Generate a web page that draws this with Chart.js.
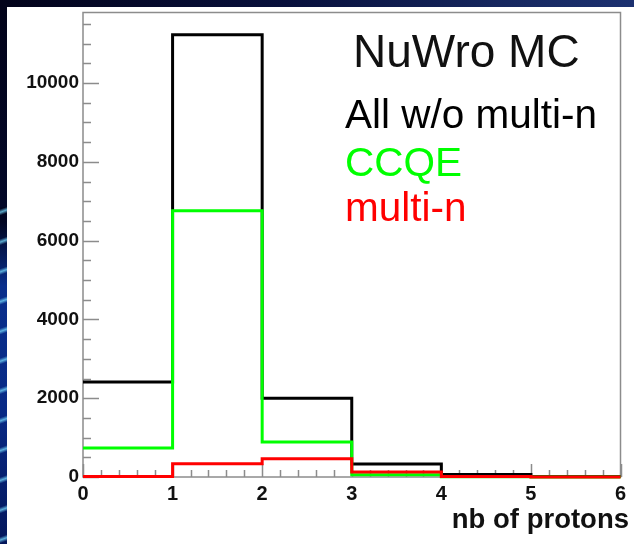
<!DOCTYPE html>
<html>
<head>
<meta charset="utf-8">
<script src="https://cdn.jsdelivr.net/npm/chart.js@4/dist/chart.umd.min.js"></script>
<style>
  html, body { margin: 0; padding: 0; }
  body {
    width: 634px; height: 544px; position: relative; overflow: hidden;
    background: linear-gradient(to right, #02031a 0%, #08103c 45%, #16275f 80%, #1c3170 100%);
  }
  #strip {
    position: absolute; left: 0; top: 7px; width: 7px; height: 537px;
    background:
      repeating-linear-gradient(160deg, rgba(90,200,255,0) 0px, rgba(90,200,255,0) 22px, rgba(120,220,255,0.75) 25px, rgba(90,200,255,0) 28px),
      linear-gradient(to bottom, #02031a 0%, #020622 40%, #0a2f8c 52%, #082a86 75%, #04165a 100%);
  }
  #strip::before {
    content: ""; position: absolute; left: 0; top: 0; width: 7px; height: 200px;
    background: linear-gradient(to bottom, #02031a, #030828);
  }
  #panel {
    position: absolute; left: 7px; top: 7px; width: 627px; height: 537px; background: #ffffff;
  }
</style>
</head>
<body>
<div id="strip"></div>
<div id="panel"><canvas id="c" width="627" height="537"></canvas></div>
<script>
// Number of protons per event, one entry per unit-wide bin [0,1), [1,2), ... [5,6)
const binEdges = [0, 1, 2, 3, 4, 5, 6];
const allNoMultiN = [2410, 11230, 2000, 330, 65, 10];
const ccqe = [735, 6760, 890, 58, 8, 0];
const multiN = [10, 335, 465, 130, 12, 0];

const yMax = 11792;
const yMajorTicks = [0, 2000, 4000, 6000, 8000, 10000];
const xMajorTicks = [0, 1, 2, 3, 4, 5, 6];

const legendLines = [
  { text: 'All w/o multi-n', color: '#000000' },
  { text: 'CCQE', color: '#00ff00' },
  { text: 'multi-n', color: '#ff0000' }
];

// Step outline: the value of bin i is held from edge i to edge i+1
function histPoints(values) {
  const pts = values.map((v, i) => ({ x: binEdges[i], y: v }));
  pts.push({ x: binEdges[values.length], y: values[values.length - 1] });
  return pts;
}

const frameColor = '#8c8c8c';

const framePlugin = {
  id: 'frame',
  beforeDatasetsDraw(chart) {
    const { ctx, chartArea: a, scales } = chart;
    const xs = scales.x, ys = scales.y;
    ctx.save();
    ctx.strokeStyle = frameColor;
    ctx.lineWidth = 1.5;
    ctx.strokeRect(a.left, a.top, a.right - a.left, a.bottom - a.top);
    ctx.beginPath();
    // y ticks: major every 2000, minor every 500, pointing into the frame
    for (let v = 0; v <= yMax; v += 500) {
      const py = Math.round(ys.getPixelForValue(v)) + 0.5;
      const len = v % 2000 === 0 ? 16 : 8;
      ctx.moveTo(a.left, py);
      ctx.lineTo(a.left + len, py);
    }
    // x ticks: major every 1, minor every 0.2
    for (let k = 0; k <= 30; k++) {
      const v = k / 5;
      const px = Math.round(xs.getPixelForValue(v)) + 0.5;
      const len = k % 5 === 0 ? 13 : 7;
      ctx.moveTo(px, a.bottom);
      ctx.lineTo(px, a.bottom - len);
    }
    ctx.stroke();
    ctx.restore();
  },
  afterDraw(chart) {
    const { ctx } = chart;
    ctx.save();
    ctx.textAlign = 'left';
    ctx.textBaseline = 'alphabetic';
    ctx.fillStyle = '#111111';
    ctx.font = '46px "Liberation Sans", Arial, sans-serif';
    ctx.fillText('NuWro MC', 346, 60);
    ctx.font = '40.5px "Liberation Sans", Arial, sans-serif';
    const baselines = [121, 169, 214];
    legendLines.forEach((l, i) => {
      ctx.fillStyle = l.color;
      ctx.fillText(l.text, 338, baselines[i]);
    });
    ctx.fillStyle = '#111111';
    ctx.textAlign = 'right';
    ctx.font = 'bold 27.5px "Liberation Sans", Arial, sans-serif';
    ctx.fillText('nb of protons', 622, 521);
    ctx.restore();
  }
};

function lineSet(label, values, color, order) {
  return {
    label,
    data: histPoints(values),
    borderColor: color,
    backgroundColor: color,
    borderWidth: 3,
    stepped: 'before',
    pointRadius: 0,
    fill: false,
    clip: false,
    order,
    borderCapStyle: 'butt',
    borderJoinStyle: 'miter'
  };
}

new Chart(document.getElementById('c'), {
  type: 'line',
  data: {
    datasets: [
      lineSet('All w/o multi-n', allNoMultiN, '#000000', 2),
      lineSet('CCQE', ccqe, '#00ff00', 1),
      lineSet('multi-n', multiN, '#ff0000', 0)
    ]
  },
  options: {
    responsive: false,
    animation: false,
    events: [],
    layout: { autoPadding: false, padding: { left: 0, top: 5.5, right: 13.5, bottom: 0 } },
    plugins: { legend: { display: false }, tooltip: { enabled: false }, title: { display: false } },
    scales: {
      x: {
        type: 'linear',
        min: 0,
        max: 6,
        grid: { display: false, drawTicks: false },
        border: { display: false },
        afterBuildTicks(scale) { scale.ticks = xMajorTicks.map(v => ({ value: v })); },
        afterFit(scale) { scale.height = 67; scale.paddingLeft = 0; scale.paddingRight = 0; },
        ticks: {
          padding: 5,
          color: '#111111',
          maxRotation: 0,
          autoSkip: false,
          callback: v => String(v),
          font: { family: '"Liberation Sans", Arial, sans-serif', size: 20, weight: 'bold' }
        }
      },
      y: {
        type: 'linear',
        min: 0,
        max: yMax,
        grid: { display: false, drawTicks: false },
        border: { display: false },
        afterBuildTicks(scale) { scale.ticks = yMajorTicks.map(v => ({ value: v })); },
        afterFit(scale) { scale.width = 76; scale.paddingTop = 0; scale.paddingBottom = 0; },
        ticks: {
          padding: 4,
          color: '#111111',
          autoSkip: false,
          callback: v => String(v),
          font: { family: '"Liberation Sans", Arial, sans-serif', size: 19, weight: 'bold' }
        }
      }
    }
  },
  plugins: [framePlugin]
});
</script>
</body>
</html>
